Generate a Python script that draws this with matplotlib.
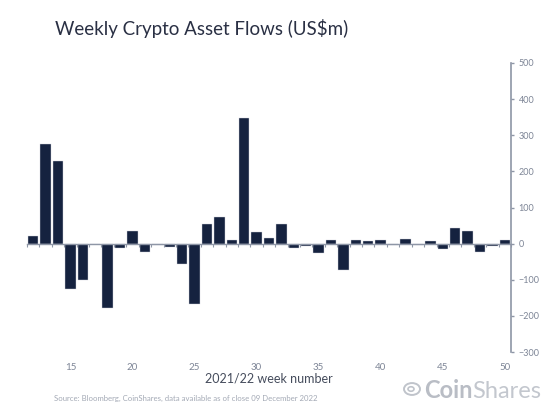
import matplotlib
matplotlib.use("Agg")
import matplotlib.pyplot as plt
from matplotlib.patches import Circle
import numpy as np

plt.rcParams['font.family'] = ['Lato', 'DejaVu Sans']

# week numbers 12..50 and net flows (US$m)
weeks = list(range(12, 51))
flows = [20, 275, 230, -125, -102, -2, -178, -13, 34, -24, -3, -8, -57, -168,
         55, 73, 11, 349, 32, 16, 55, -12, -6, -26, 10, -72, 9, 8, 11, -5,
         14, -4, 6, -15, 44, 34, -22, -6, 9]
xticks = [15, 20, 25, 30, 35, 40, 45, 50]
yticks = list(range(-300, 501, 100))

navy = '#15223f'
axis_grey = '#8e96a6'
label_grey = '#7d8596'

fig = plt.figure(figsize=(5.6, 4.16), dpi=100)
ax = fig.add_axes([27 / 560, 1 - 352 / 416, (511 - 27) / 560, (352 - 63) / 416])

ax.bar(weeks, flows, width=0.84, color=navy, edgecolor='#cfd3da', linewidth=0.3, zorder=3)

ax.set_xlim(weeks[0] - 0.5, weeks[-1] + 0.5)
ax.set_ylim(yticks[0], yticks[-1])

# y axis on the right
for s in ['left', 'top', 'bottom']:
    ax.spines[s].set_visible(False)
ax.spines['right'].set_color(axis_grey)
ax.spines['right'].set_linewidth(1.2)
ax.yaxis.tick_right()
ax.set_yticks(yticks)
ax.tick_params(axis='y', colors=axis_grey, labelcolor=label_grey, labelsize=6.5,
               length=2.5, width=1, pad=3)

# tick labels at the bottom
ax.set_xticks(xticks)
ax.tick_params(axis='x', length=0, labelsize=7, labelcolor=label_grey, pad=8)
ax.set_xlabel('2021/22 week number', fontsize=9, color='#454c5c', labelpad=0)

# zero line with small ticks between weeks
zero_pos = (0 - yticks[0]) / (yticks[-1] - yticks[0])
sec = ax.secondary_xaxis(zero_pos)
sec.spines['bottom'].set_color(axis_grey)
sec.spines['bottom'].set_linewidth(1.0)
sec.set_xticks([w - 0.5 for w in weeks] + [weeks[-1] + 0.5])
sec.tick_params(axis='x', length=2.5, width=0.8, colors=axis_grey, labelbottom=False)
sec.set_zorder(4)

fig.text(55 / 560, 1 - 28 / 416, r'Weekly Crypto Asset Flows (US\$m)', fontsize=13.5,
         color='#2a3044', va='center', ha='left')

fig.text(54 / 560, 1 - 398 / 416,
         'Source: Bloomberg, CoinShares, data available as of close 09 December 2022',
         fontsize=5.6, color='#a3a9b5', va='center', ha='left')

# CoinShares logo
coin = fig.text(424 / 560, 1 - 391 / 416, 'Coin', fontsize=17, fontweight='bold',
                color='#b9bdc5', va='center', ha='left')
ax.annotate('Shares', xy=(1, 0.5), xycoords=coin, fontsize=17, color='#c3c7ce',
            va='center', ha='left')
fig.add_artist(Circle((412 / 560, 1 - 389 / 416), 8 / 560, transform=fig.transFigure,
                      fill=False, edgecolor='#c0c4cb', linewidth=1.4))
fig.add_artist(Circle((411 / 560, 1 - 389 / 416), 3 / 560, transform=fig.transFigure,
                      fill=False, edgecolor='#c0c4cb', linewidth=1.2))

fig.savefig('out.png', dpi=100)
